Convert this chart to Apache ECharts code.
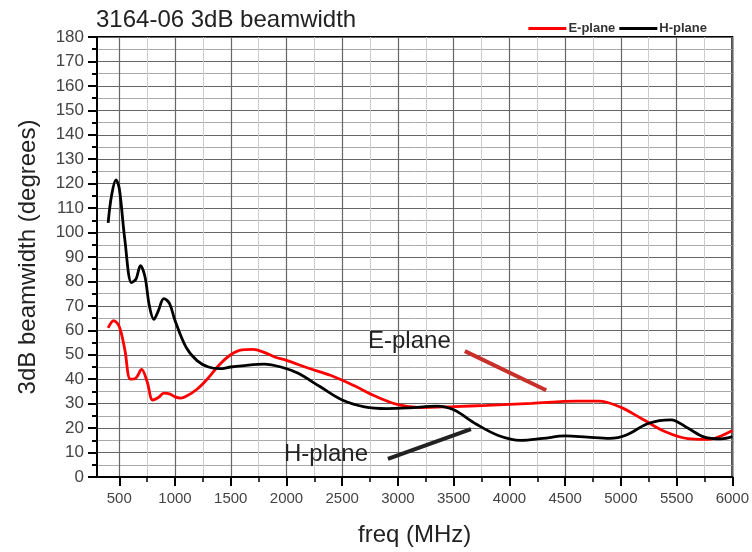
<!DOCTYPE html>
<html>
<head>
<meta charset="utf-8">
<script src="https://cdn.jsdelivr.net/npm/echarts@6/dist/echarts.min.js"></script>
<style>
  html, body { margin: 0; padding: 0; background: #fff; }
  #chart { width: 752px; height: 552px; }
</style>
</head>
<body>
<div id="chart"></div>
<script>
// Beamwidth of the 3164-06 antenna, frequency in MHz vs 3 dB beamwidth in degrees
const ePlaneFreq = [400, 450, 500, 550, 600, 650, 700, 750, 800, 850, 900, 950, 1000, 1050, 1100, 1200, 1300, 1400, 1500, 1600, 1700, 1800, 1900, 2000, 2200, 2400, 2600, 2800, 3000, 3200, 3500, 3800, 4200, 4600, 4800, 5000, 5200, 5400, 5600, 5750, 5850, 6000];
const ePlaneDeg  = [61, 64, 61.5, 52, 40, 40.5, 44, 39, 31.5, 32.5, 34.3, 34, 32.8, 32.3, 33, 36, 40.6, 46, 50, 52, 52.2, 51, 49, 47.7, 44.5, 41.5, 37.5, 33, 29.6, 28.4, 28.8, 29.3, 30.1, 31, 31, 28.5, 23.5, 18.5, 15.7, 15.4, 15.9, 19];

const hPlaneFreq = [400, 430, 470, 500, 550, 610, 650, 690, 730, 770, 810, 850, 900, 950, 1000, 1100, 1200, 1300, 1400, 1500, 1600, 1800, 1950, 2100, 2300, 2500, 2700, 2900, 3100, 3350, 3500, 3700, 3900, 4100, 4300, 4500, 4700, 4900, 5050, 5250, 5450, 5600, 5750, 5900, 6000];
const hPlaneDeg  = [104, 115, 121.5, 118, 97, 79.5, 81, 86.5, 82, 70, 64.5, 68, 73, 71, 64, 53, 47.5, 45, 44.3, 45, 45.5, 46.2, 45, 42.5, 37, 31.5, 28.7, 28, 28.3, 29, 27.5, 21.7, 17, 15, 15.8, 16.8, 16.3, 15.8, 17.2, 22, 23.4, 20, 16.3, 15.6, 16.5];

// Tick positions on the frequency axis
const freqLabels = [500, 1000, 1500, 2000, 2500, 3000, 3500, 4000, 4500, 5000, 5500, 6000];
const freqMinor = [750, 1250, 1750, 2250, 2750, 3250, 3750, 4250, 4750, 5250, 5750];

// Callout pointers, in data coordinates [freq, degrees]
const ePointer = [[3600, 51.5], [4330, 35.5]];
const hPointer = [[2910, 7.4], [3655, 19.6]];

const FONT = '"Liberation Sans", Arial, sans-serif';

const zip = (xs, ys) => xs.map((x, i) => [x, ys[i]]);

const chart = echarts.init(document.getElementById('chart'), null, { renderer: 'canvas' });

chart.setOption({
  animation: false,
  backgroundColor: '#fff',
  title: {
    text: '3164-06 3dB beamwidth',
    left: 91, top: 3,
    textStyle: { fontFamily: FONT, fontSize: 24, fontWeight: 'normal', color: '#222' }
  },
  legend: {
    right: 40, top: 17,
    icon: 'rect',
    itemWidth: 38, itemHeight: 3, itemGap: 4,
    textStyle: { fontFamily: FONT, fontSize: 13, fontWeight: 'bold', color: '#333', padding: [0, 0, 0, -3] },
    data: ['E-plane', 'H-plane']
  },
  grid: {
    left: 97, right: 19, top: 37, bottom: 72,
    show: true, borderColor: '#000', borderWidth: 2, containLabel: false
  },
  xAxis: [{
    // light grid lines every 250 MHz plus short minor ticks
    type: 'value', min: 300, max: 6000, position: 'bottom',
    axisLine: { show: false },
    axisTick: { show: true, customValues: freqMinor, length: 5, lineStyle: { color: '#000', width: 1.5 } },
    axisLabel: { show: false, customValues: freqMinor },
    splitLine: { show: true, lineStyle: { color: '#ccc', width: 1 } }
  }, {
    type: 'value', min: 300, max: 6000, position: 'bottom',
    name: 'freq (MHz)', nameLocation: 'middle', nameGap: 46,
    nameTextStyle: { fontFamily: FONT, fontSize: 24, color: '#222' },
    axisLine: { show: true, lineStyle: { color: '#000', width: 2 } },
    axisTick: { show: true, customValues: freqLabels, length: 9, lineStyle: { color: '#000', width: 2 } },
    axisLabel: {
      customValues: freqLabels, fontFamily: FONT, fontSize: 15, color: '#444', margin: 14,
      formatter: v => String(v)
    },
    splitLine: { show: true, lineStyle: { color: '#666', width: 1.2 } }
  }],
  yAxis: {
    type: 'value', min: 0, max: 180, interval: 10,
    name: '3dB beamwidth (degrees)', nameLocation: 'middle', nameGap: 57, nameRotate: 90,
    nameTextStyle: { fontFamily: FONT, fontSize: 24, color: '#222' },
    axisLine: { show: true, lineStyle: { color: '#000', width: 2 } },
    axisTick: { show: true, length: 9, lineStyle: { color: '#000', width: 2 } },
    minorTick: { show: true, splitNumber: 2, length: 5, lineStyle: { color: '#000', width: 2 } },
    axisLabel: { fontFamily: FONT, fontSize: 17, color: '#444', margin: 13 },
    splitLine: { show: true, lineStyle: { color: '#666', width: 1.2 } },
    minorSplitLine: { show: true, lineStyle: { color: '#aaa', width: 1 } }
  },
  series: [{
    name: 'E-plane', type: 'line', xAxisIndex: 1,
    data: zip(ePlaneFreq, ePlaneDeg),
    smooth: 0.35, showSymbol: false, symbol: 'none',
    lineStyle: { color: '#ff0000', width: 2.8 },
    itemStyle: { color: '#ff0000' },
    z: 3,
    markLine: {
      silent: true, symbol: 'none', label: { show: false },
      lineStyle: { color: '#c8302c', width: 4, type: 'solid' },
      data: [[{ coord: ePointer[0] }, { coord: ePointer[1] }]]
    }
  }, {
    name: 'H-plane', type: 'line', xAxisIndex: 1,
    data: zip(hPlaneFreq, hPlaneDeg),
    smooth: 0.35, showSymbol: false, symbol: 'none',
    lineStyle: { color: '#000', width: 2.8 },
    itemStyle: { color: '#000' },
    z: 4,
    markLine: {
      silent: true, symbol: 'none', label: { show: false },
      lineStyle: { color: '#222', width: 4, type: 'solid' },
      data: [[{ coord: hPointer[0] }, { coord: hPointer[1] }]]
    }
  }],
  graphic: [{
    type: 'text', left: 368, top: 329, z: 10,
    style: { text: 'E-plane', font: '24px "Liberation Sans", Arial, sans-serif', fill: '#222' }
  }, {
    type: 'text', left: 284, top: 442, z: 10,
    style: { text: 'H-plane', font: '24px "Liberation Sans", Arial, sans-serif', fill: '#222' }
  }]
});
</script>
</body>
</html>
